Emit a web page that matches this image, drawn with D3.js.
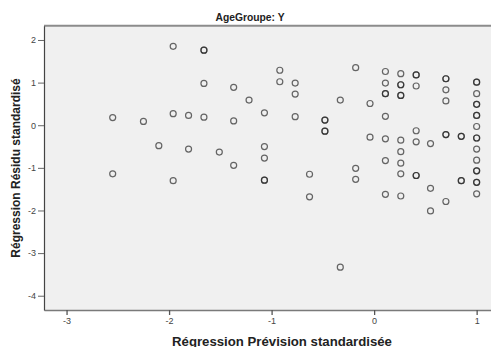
<!DOCTYPE html>
<html>
<head>
<meta charset="utf-8">
<script src="https://cdn.jsdelivr.net/npm/d3@7"></script>
<style>
  html, body { margin: 0; padding: 0; background: #ffffff; }
  svg { display: block; }
  text { font-family: "Liberation Sans", Arial, sans-serif; }
</style>
</head>
<body>
<svg id="chart" width="491" height="347"></svg>
<script>
// Standardised predicted values (x) and standardised residuals (y).
// Coincident cases are listed twice, which draws them darker.
const predicted = [
  -2.55, -2.55,
  -2.25,
  -2.10,
  -1.96, -1.96, -1.96,
  -1.81, -1.81,
  -1.66, -1.66, -1.66, -1.66,
  -1.51,
  -1.37, -1.37, -1.37,
  -1.22,
  -1.07, -1.07, -1.07, -1.07, -1.07,
  -0.92, -0.92,
  -0.77, -0.77, -0.77,
  -0.63, -0.63,
  -0.48, -0.48, -0.48, -0.48,
  -0.33, -0.33,
  -0.18, -0.18, -0.18,
  -0.04, -0.04,
  0.11, 0.11, 0.11, 0.11, 0.11, 0.11, 0.11, 0.11,
  0.26, 0.26, 0.26, 0.26, 0.26, 0.26, 0.26, 0.26, 0.26, 0.26,
  0.41, 0.41, 0.41, 0.41, 0.41, 0.41, 0.41,
  0.55, 0.55, 0.55,
  0.70, 0.70, 0.70, 0.70, 0.70, 0.70, 0.70,
  0.85, 0.85, 0.85, 0.85,
  1.00, 1.00, 1.00, 1.00, 1.00, 1.00, 1.00, 1.00, 1.00, 1.00, 1.00,
  1.00, 1.00, 1.00, 1.00, 1.00, 1.00
];
const residual = [
  0.18, -1.14,
  0.09,
  -0.48,
  1.85, 0.27, -1.30,
  0.23, -0.56,
  1.76, 1.76, 0.98, 0.19,
  -0.63,
  0.89, 0.10, -0.94,
  0.59,
  0.29, -0.50, -0.77, -1.29, -1.29,
  1.29, 1.02,
  0.99, 0.73, 0.20,
  -1.15, -1.68,
  0.12, 0.12, -0.14, -0.14,
  0.59, -3.33,
  1.35, -1.01, -1.27,
  0.51, -0.28,
  1.26, 0.99, 0.74, 0.74, 0.21, -0.32, -0.83, -1.62,
  1.21, 0.95, 0.95, 0.70, 0.70, -0.35, -0.62, -0.89, -1.14, -1.66,
  1.18, 1.18, 0.92, -0.13, -0.39, -1.18, -1.18,
  -0.43, -1.48, -2.01,
  1.09, 1.09, 0.83, 0.57, -0.22, -0.22, -1.79,
  -0.26, -0.26, -1.30, -1.30,
  1.01, 1.01, 0.74, 0.49, 0.49, 0.23, 0.23, -0.03, -0.30, -0.30, -0.56,
  -0.82, -1.07, -1.07, -1.34, -1.34, -1.61
];

const xTicks = [-3, -2, -1, 0, 1];
const xTickLabels = ["-3", "-2", "-1", "0", "1"];
const yTicks = [-4, -3, -2, -1, 0, 1, 2];
const yTickLabels = ["-4", "-3", "-2", "-1", "0", "1", "2"];

const panelTitle = "AgeGroupe: Y";
const xTitle = "Régression Prévision standardisée";
const yTitle = "Régression Résidu standardisé";

const svg = d3.select("#chart");
const plot = { left: 44, right: 491, top: 25.7, bottom: 310 };

const x = d3.scaleLinear().domain([-3.22, 1.14]).range([plot.left, plot.right]);
const y = d3.scaleLinear().domain([-4.335, 2.335]).range([plot.bottom, plot.top]);

// plot background
svg.append("rect")
  .attr("x", plot.left).attr("y", plot.top)
  .attr("width", plot.right - plot.left).attr("height", plot.bottom - plot.top)
  .attr("fill", "#f0f0f0");

// top frame line
svg.append("line")
  .attr("x1", plot.left).attr("x2", plot.right)
  .attr("y1", plot.top).attr("y2", plot.top)
  .attr("stroke", "#8c8c8c").attr("stroke-width", 2);

// axes
const xAxis = svg.append("g")
  .attr("transform", `translate(0,${plot.bottom})`)
  .call(d3.axisBottom(x).tickValues(xTicks)
    .tickFormat((d, i) => xTickLabels[i]).tickSize(5).tickSizeOuter(0).tickPadding(3));
xAxis.select(".domain").attr("stroke", "#7a7a7a").attr("stroke-width", 1.5);
xAxis.selectAll(".tick line").attr("stroke", "#555").attr("stroke-width", 1.3);
xAxis.selectAll(".tick text")
  .attr("font-size", 9).attr("fill", "#444")
  .attr("font-family", "'Liberation Sans', Arial, sans-serif");

const yAxis = svg.append("g")
  .attr("transform", `translate(${plot.left},0)`)
  .call(d3.axisLeft(y).tickValues(yTicks)
    .tickFormat((d, i) => yTickLabels[i]).tickSize(6).tickSizeOuter(0).tickPadding(2));
yAxis.select(".domain").attr("stroke", "#444").attr("stroke-width", 1.2);
yAxis.selectAll(".tick line").attr("stroke", "#666");
yAxis.selectAll(".tick text")
  .attr("font-size", 9).attr("fill", "#444")
  .attr("font-family", "'Liberation Sans', Arial, sans-serif");

// points
const cases = predicted.map((p, i) => ({ p, r: residual[i] }));
svg.append("g").selectAll("circle")
  .data(cases)
  .join("circle")
  .attr("cx", d => x(d.p))
  .attr("cy", d => y(d.r))
  .attr("r", 3)
  .attr("fill", "none")
  .attr("stroke", "#222")
  .attr("stroke-opacity", 0.68)
  .attr("stroke-width", 1.2);

// titles
svg.append("text")
  .attr("x", 250).attr("y", 20.5)
  .attr("text-anchor", "middle")
  .attr("font-size", 10.3).attr("font-weight", "bold").attr("fill", "#222")
  .text(panelTitle);

svg.append("text")
  .attr("x", 282).attr("y", 345.5)
  .attr("text-anchor", "middle")
  .attr("font-size", 13.2).attr("font-weight", "bold").attr("fill", "#222")
  .text(xTitle);

svg.append("text")
  .attr("transform", "translate(20,168) rotate(-90)")
  .attr("text-anchor", "middle")
  .attr("font-size", 12).attr("font-weight", "bold").attr("fill", "#222")
  .text(yTitle);
</script>
</body>
</html>
